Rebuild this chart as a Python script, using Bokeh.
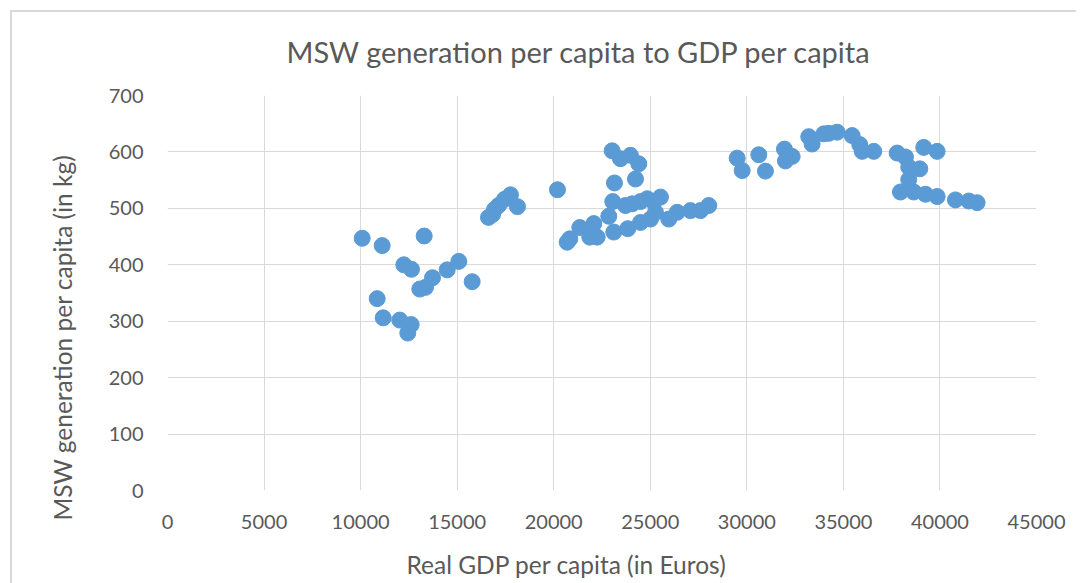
from bokeh.plotting import figure
from bokeh.models import Range1d, FixedTicker, ColumnDataSource, Title
from bokeh.embed import file_html
from bokeh.resources import INLINE

gdp = [10082, 11117, 13292, 12236, 12635, 13064, 13360, 13722, 14483, 15084, 15777,
       10858, 11169, 12029, 12619, 12443,
       16622, 16829, 16932, 17139, 17450, 17761, 18123, 20194,
       23027, 23456, 23974, 24405, 23146, 24234, 23058, 22852, 21350, 22075, 20697, 20832,
       21868, 22250, 23110, 23835, 24493, 25011, 23715, 24061, 24493, 24840, 25181, 25528,
       25270, 25958, 26393, 27081, 27599, 28029,
       29499, 29758, 30620, 30964, 31948, 32000, 32347, 33207, 33380, 33984, 34243, 34676,
       35453, 35847, 35972, 36573, 37785, 38214, 39162, 39855, 38385, 38955, 38385,
       37955, 38644, 39250, 39855, 40803, 41494, 41925]
msw = [447, 434, 451, 400, 392, 357, 360, 377, 391, 406, 370,
       340, 306, 302, 294, 279,
       484, 489, 498, 505, 516, 524, 503, 533,
       602, 588, 594, 579, 545, 552, 512, 486, 466, 473, 440, 446,
       449, 449, 458, 464, 475, 481, 505, 508, 512, 517, 511, 520,
       493, 481, 493, 496, 496, 505,
       589, 567, 595, 566, 605, 584, 592, 627, 614, 632, 633, 635,
       629, 613, 601, 601, 598, 591, 608, 601, 573, 570, 551,
       529, 529, 525, 521, 515, 513, 510]

x_ticks = list(range(0, 45001, 5000))
y_ticks = list(range(0, 701, 100))

FONT = "Lato"
TXT = "#595959"
GRID = "#D9D9D9"

p = figure(width=1076, height=578, output_backend="svg", toolbar_location=None,
           x_range=Range1d(0, 45000), y_range=Range1d(0, 700),
           frame_width=869, frame_height=395,
           min_border_left=167, min_border_right=40, min_border_top=95, min_border_bottom=88,
           title="MSW generation per capita to GDP per capita")

p.title.align = "left"
p.title.text_font = FONT
p.title.text_font_size = "29px"
p.title.text_font_style = "normal"
p.title.text_color = TXT
p.title.offset = 119
p.title.standoff = 53

p.outline_line_color = None
p.background_fill_color = "white"
p.border_fill_alpha = 0
p.styles = {
    "background": "linear-gradient(#D9D9D9, #D9D9D9) 10px 10px / 2px 100% no-repeat, "
                  "linear-gradient(#D9D9D9, #D9D9D9) 10px 10px / 100% 2px no-repeat, white"
}

for ax in (p.xaxis[0], p.yaxis[0]):
    ax.axis_line_color = None
    ax.major_tick_line_color = None
    ax.minor_tick_line_color = None
    ax.major_label_text_font = FONT
    ax.major_label_text_font_size = "20px"
    ax.major_label_text_color = TXT

p.xaxis.ticker = FixedTicker(ticks=x_ticks)
p.yaxis.ticker = FixedTicker(ticks=y_ticks)
p.xaxis.major_label_standoff = 18
p.yaxis.major_label_standoff = 18

xlab = Title(text="Real GDP per capita (in Euros)", align="left", offset=239,
             standoff=33, text_font=FONT, text_font_size="24.5px",
             text_font_style="normal", text_color=TXT)
p.add_layout(xlab, "below")
ylab = Title(text="MSW generation per capita (in kg)", align="left", offset=-30,
             standoff=57, text_font=FONT, text_font_size="24.5px",
             text_font_style="normal", text_color=TXT)
p.add_layout(ylab, "left")

p.xgrid.grid_line_color = GRID
p.ygrid.grid_line_color = GRID
p.xgrid.grid_line_width = 1
p.ygrid.grid_line_width = 1

src = ColumnDataSource(dict(x=gdp, y=msw))
p.scatter("x", "y", source=src, size=16, fill_color="#5B9BD5", line_color="#5B9BD5")

open("out.html", "w").write(file_html(p, INLINE))
